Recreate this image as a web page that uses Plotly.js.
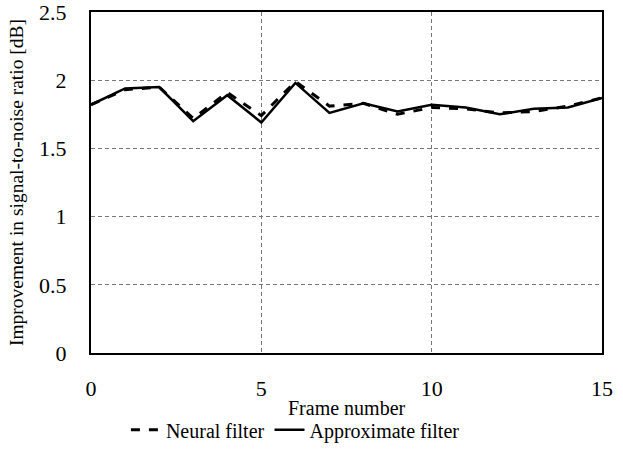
<!DOCTYPE html>
<html><head><meta charset="utf-8">
<script src="https://cdn.plot.ly/plotly-3.0.1.min.js"></script>
<style>html,body{margin:0;padding:0;background:#fff}#c{width:623px;height:452px}</style>
</head><body><div id="c"></div>
<script>
const frames = [0,1,2,3,4,5,6,7,8,9,10,11,12,13,14,15];
const neuralFilter = [1.82,1.93,1.95,1.72,1.91,1.74,1.99,1.81,1.83,1.75,1.80,1.79,1.76,1.77,1.81,1.87];
const approximateFilter = [1.82,1.94,1.95,1.70,1.89,1.69,1.98,1.76,1.83,1.77,1.82,1.80,1.75,1.79,1.80,1.87];
const xTitle = 'Frame number';
const yTitle = 'Improvement in signal-to-noise ratio [dB]';
const font = "'Liberation Serif', 'Times New Roman', serif";
const data = [
  {x: frames, y: neuralFilter, mode: 'lines', name: 'Neural filter',
   line: {color: '#000', width: 3, dash: 'dash'}},
  {x: frames, y: approximateFilter, mode: 'lines', name: 'Approximate filter',
   line: {color: '#000', width: 2.5}}
];
const layout = {
  width: 623, height: 452,
  margin: {l: 91, r: 21, t: 12, b: 99, autoexpand: false},
  paper_bgcolor: '#fff', plot_bgcolor: '#fff',
  font: {family: font, color: '#000', size: 22},
  showlegend: true,
  legend: {orientation: 'h', x: 0.40, xanchor: 'center', yref: 'container', y: 0.049, yanchor: 'middle',
           font: {family: font, size: 20}, itemwidth: 30, tracegroupgap: 0},
  annotations: [{text: xTitle, xref: 'paper', yref: 'paper', x: 0.5, y: -0.161,
                 xanchor: 'center', yanchor: 'middle', showarrow: false,
                 font: {family: font, size: 20, color: '#000'}}],
  xaxis: {range: [0, 15], dtick: 5, tick0: 0, showline: true, mirror: true,
          linecolor: '#000', linewidth: 2, ticks: '', showgrid: true,
          gridcolor: '#777', griddash: '4px,3px', gridwidth: 1, zeroline: false,
          ticklabelstandoff: 15, automargin: true, ticklabeloverflow: 'allow'},
  yaxis: {range: [0, 2.5], dtick: 0.5, tick0: 0, showline: true, mirror: true,
          linecolor: '#000', linewidth: 2, ticks: '', showgrid: true,
          gridcolor: '#777', griddash: '4px,3px', gridwidth: 1, zeroline: false,
          ticklabelstandoff: 18, automargin: true, ticklabeloverflow: 'allow',
          title: {text: yTitle, font: {family: font, size: 19.5}, standoff: 10}}
};
Plotly.newPlot('c', data, layout, {displayModeBar: false, staticPlot: true});
</script></body></html>
